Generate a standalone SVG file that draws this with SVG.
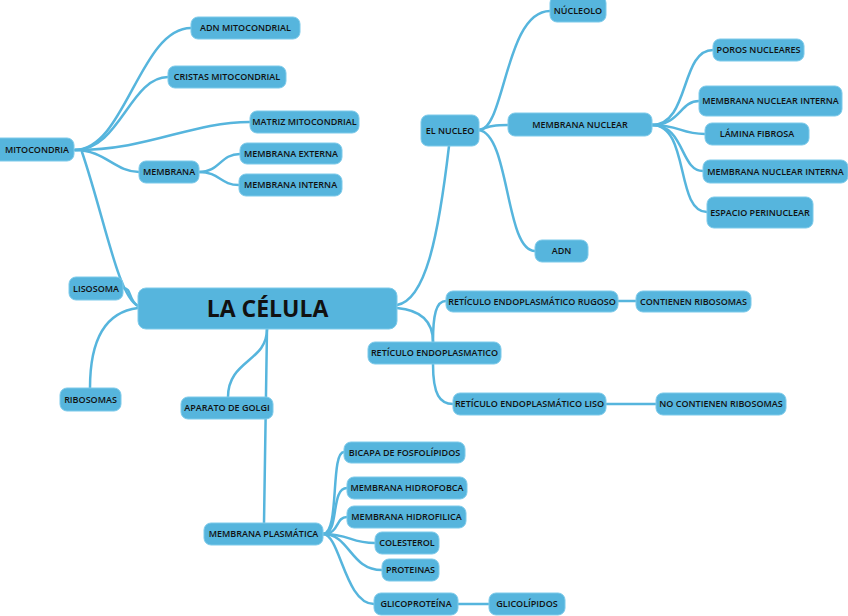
<svg xmlns="http://www.w3.org/2000/svg" width="848" height="616" viewBox="0 0 848 616">
<style>
.n rect{fill:#56b5dd;stroke:#7ccaea;stroke-width:1}
.n text{font-family:"Open Sans","Liberation Sans",sans-serif;font-weight:600;font-size:9px;fill:#111;text-anchor:middle}
.c path{fill:none;stroke:#56b5dd;stroke-width:2.5;stroke-linecap:round}
.n text.big{font-size:23px;font-weight:700}
</style>
<rect width="848" height="616" fill="#fff"/>
<g class="c" id="connectors">
<path d="M75,150 C125,150 140,28 191,28"/>
<path d="M75,150 C120,150 130,77 168,77"/>
<path d="M75,150 C150,150 190,122 250,122"/>
<path d="M75,150 C105,150 115,172 139,172"/>
<path d="M199,172 C220,172 220,154 240,154"/>
<path d="M199,172 C220,172 220,185 239,185"/>
<path d="M138,306 C118,296 105,220 82,152"/>
<path d="M138,306 C128,300 132,288 123,288"/>
<path d="M138,308 C105,312 90,340 90,388"/>
<path d="M267,329 C267,362 228,360 228,397"/>
<path d="M267,329 L264,523"/>
<path d="M397,305 C425,300 438,240 449,146"/>
<path d="M397,308 C420,310 433,320 433,342"/>
<path d="M433,342 C433,315 436,301 446,301"/>
<path d="M433,364 C433,395 440,404 453,404"/>
<path d="M618,301 L636,301"/>
<path d="M606,404 C630,404 630,404 656,404"/>
<path d="M479,130 C505,130 505,11 550,11"/>
<path d="M479,130 C490,126 495,125 508,125"/>
<path d="M479,130 C510,135 505,251 535,251"/>
<path d="M652,125 C690,125 680,50 713,50"/>
<path d="M652,125 C680,125 680,101 699,101"/>
<path d="M652,125 C680,125 680,134 705,134"/>
<path d="M652,125 C685,125 680,171 703,171"/>
<path d="M652,125 C690,125 675,212 707,212"/>
<path d="M323,534 C340,534 330,452 344,452"/>
<path d="M323,534 C340,534 330,488 347,488"/>
<path d="M323,534 C340,534 335,517 347,517"/>
<path d="M323,534 C350,534 350,543 375,543"/>
<path d="M323,534 C350,534 350,570 382,570"/>
<path d="M323,534 C340,534 345,604 374,604"/>
<path d="M458,604 L489,604"/>
</g>
<g class="n" id="n-celula"><rect x="138" y="288" width="259" height="41" rx="8"/><text class="big" x="267.5" y="317">LA CÉLULA</text></g>
<g class="n" id="n-mitocondria"><rect x="-8" y="138" width="82" height="23" rx="7"/><text x="37" y="152.5">MITOCONDRIA</text></g>
<g class="n" id="n-adnmito"><rect x="191" y="17" width="109" height="22" rx="7"/><text x="245.5" y="31">ADN MITOCONDRIAL</text></g>
<g class="n" id="n-cristas"><rect x="168" y="66" width="118" height="22" rx="7"/><text x="227" y="80">CRISTAS MITOCONDRIAL</text></g>
<g class="n" id="n-matriz"><rect x="250" y="111" width="109" height="22" rx="7"/><text x="304.5" y="125">MATRIZ MITOCONDRIAL</text></g>
<g class="n" id="n-membrana"><rect x="139" y="161" width="60" height="22" rx="7"/><text x="169" y="175">MEMBRANA</text></g>
<g class="n" id="n-mext"><rect x="240" y="143" width="102" height="21" rx="7"/><text x="291" y="156.5">MEMBRANA EXTERNA</text></g>
<g class="n" id="n-mint"><rect x="239" y="174" width="103" height="22" rx="7"/><text x="290.5" y="188">MEMBRANA INTERNA</text></g>
<g class="n" id="n-lisosoma"><rect x="69" y="277" width="54" height="23" rx="7"/><text x="96" y="291.5">LISOSOMA</text></g>
<g class="n" id="n-ribosomas"><rect x="60" y="388" width="61" height="23" rx="7"/><text x="90.5" y="402.5">RIBOSOMAS</text></g>
<g class="n" id="n-golgi"><rect x="181" y="397" width="92" height="22" rx="7"/><text x="227" y="411">APARATO DE GOLGI</text></g>
<g class="n" id="n-nucleo"><rect x="421" y="115" width="58" height="31" rx="7"/><text x="450" y="133.5">EL NUCLEO</text></g>
<g class="n" id="n-nucleolo"><rect x="550" y="-4" width="56" height="26" rx="7"/><text x="578" y="14">NÚCLEOLO</text></g>
<g class="n" id="n-memnuc"><rect x="508" y="113" width="144" height="23" rx="7"/><text x="580" y="127.5">MEMBRANA NUCLEAR</text></g>
<g class="n" id="n-adn"><rect x="535" y="240" width="53" height="22" rx="7"/><text x="561.5" y="254">ADN</text></g>
<g class="n" id="n-poros"><rect x="713" y="39" width="91" height="22" rx="7"/><text x="758.5" y="53">POROS NUCLEARES</text></g>
<g class="n" id="n-mni1"><rect x="699" y="86" width="143" height="30" rx="7"/><text x="770.5" y="104">MEMBRANA NUCLEAR INTERNA</text></g>
<g class="n" id="n-lamina"><rect x="705" y="123" width="104" height="22" rx="7"/><text x="757" y="137">LÁMINA FIBROSA</text></g>
<g class="n" id="n-mni2"><rect x="703" y="160" width="145" height="23" rx="7"/><text x="775.5" y="174.5">MEMBRANA NUCLEAR INTERNA</text></g>
<g class="n" id="n-espacio"><rect x="707" y="197" width="106" height="31" rx="7"/><text x="760" y="215.5">ESPACIO PERINUCLEAR</text></g>
<g class="n" id="n-re"><rect x="368" y="342" width="133" height="22" rx="7"/><text x="434.5" y="356">RETÍCULO ENDOPLASMATICO</text></g>
<g class="n" id="n-rer"><rect x="446" y="291" width="172" height="21" rx="7"/><text x="532" y="304.5">RETÍCULO ENDOPLASMÁTICO RUGOSO</text></g>
<g class="n" id="n-contienen"><rect x="636" y="291" width="115" height="21" rx="7"/><text x="693.5" y="304.5">CONTIENEN RIBOSOMAS</text></g>
<g class="n" id="n-rel"><rect x="453" y="393" width="153" height="22" rx="7"/><text x="529.5" y="407">RETÍCULO ENDOPLASMÁTICO LISO</text></g>
<g class="n" id="n-nocontienen"><rect x="656" y="393" width="130" height="22" rx="7"/><text x="721" y="407">NO CONTIENEN RIBOSOMAS</text></g>
<g class="n" id="n-mplas"><rect x="204" y="523" width="119" height="22" rx="7"/><text x="263.5" y="537">MEMBRANA PLASMÁTICA</text></g>
<g class="n" id="n-bicapa"><rect x="344" y="442" width="121" height="21" rx="7"/><text x="404.5" y="455.5">BICAPA DE FOSFOLÍPIDOS</text></g>
<g class="n" id="n-hidrofobca"><rect x="347" y="477" width="120" height="22" rx="7"/><text x="407" y="491">MEMBRANA HIDROFOBCA</text></g>
<g class="n" id="n-hidrofilica"><rect x="347" y="506" width="119" height="22" rx="7"/><text x="406.5" y="520">MEMBRANA HIDROFILICA</text></g>
<g class="n" id="n-colesterol"><rect x="375" y="532" width="64" height="22" rx="7"/><text x="407" y="546">COLESTEROL</text></g>
<g class="n" id="n-proteinas"><rect x="382" y="559" width="57" height="22" rx="7"/><text x="410.5" y="573">PROTEINAS</text></g>
<g class="n" id="n-glicoproteina"><rect x="374" y="593" width="84" height="22" rx="7"/><text x="416" y="607">GLICOPROTEÍNA</text></g>
<g class="n" id="n-glicolipidos"><rect x="489" y="593" width="76" height="22" rx="7"/><text x="527" y="607">GLICOLÍPIDOS</text></g>
</svg>
